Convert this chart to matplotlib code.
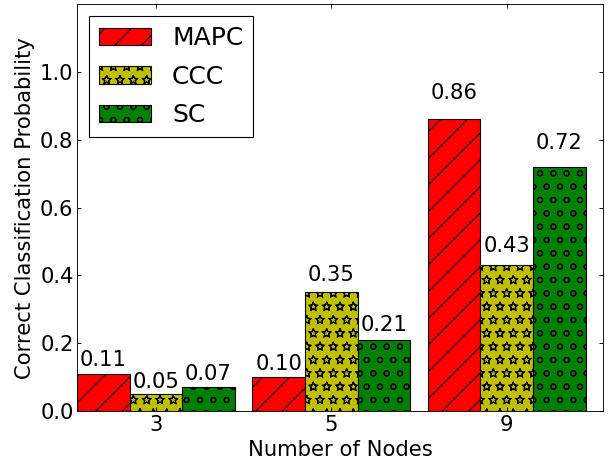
import numpy as np
import matplotlib
matplotlib.use('Agg')
import matplotlib.hatch
from matplotlib import pyplot as plt

# данные
nodes = ['3', '5', '9']
methods = ['MAPC', 'CCC', 'SC']
mapc = [0.11, 0.10, 0.86]
ccc = [0.05, 0.35, 0.43]
sc = [0.07, 0.21, 0.72]

colors = ['#ff0000', '#bfbf00', '#008000']
hatches = ['/', '*', 'o']

# звёздочки без заливки, как в старом matplotlib
matplotlib.hatch.Stars.filled = False
plt.rcParams['hatch.linewidth'] = 1.0

fig = plt.figure(figsize=(610 / 80., 465 / 80.), dpi=80)
ax = fig.add_axes([0.126, 0.116, 0.863, 0.875])

ind = np.arange(len(nodes))
width = 0.3
for i, (vals, name) in enumerate(zip([mapc, ccc, sc], methods)):
    bars = ax.bar(ind + i * width, vals, width, align='edge', color=colors[i],
                  edgecolor='black', linewidth=1, hatch=hatches[i], label=name)
    for b in bars:
        h = b.get_height()
        ax.text(b.get_x() + b.get_width() / 2., 1.05 * h + 0.005, '%.2f' % h,
                ha='center', va='bottom', fontsize=19)

ax.set_xlim(0, 3)
ax.set_ylim(0, 1.2)
ax.set_xticks(ind + 1.5 * width)
ax.set_xticklabels(nodes)
ax.set_yticks([0.0, 0.2, 0.4, 0.6, 0.8, 1.0])
ax.tick_params(direction='in', top=True, right=True, length=4, labelsize=19)
ax.tick_params(axis='x', pad=3.6)
ax.tick_params(axis='y', pad=3)
ax.set_xlabel('Number of Nodes', fontsize=19, labelpad=4.5)
ax.set_ylabel('Correct Classification Probability', fontsize=19, labelpad=4.5)

leg = ax.legend(loc='upper left', fontsize=22.5, fancybox=False, framealpha=1,
                edgecolor='black', handlelength=2.07, handleheight=0.71,
                labelspacing=0.58, borderpad=0.4, handletextpad=0.86,
                borderaxespad=0.48)
leg.get_frame().set_linewidth(1)

fig.savefig('out.png', dpi=80)
